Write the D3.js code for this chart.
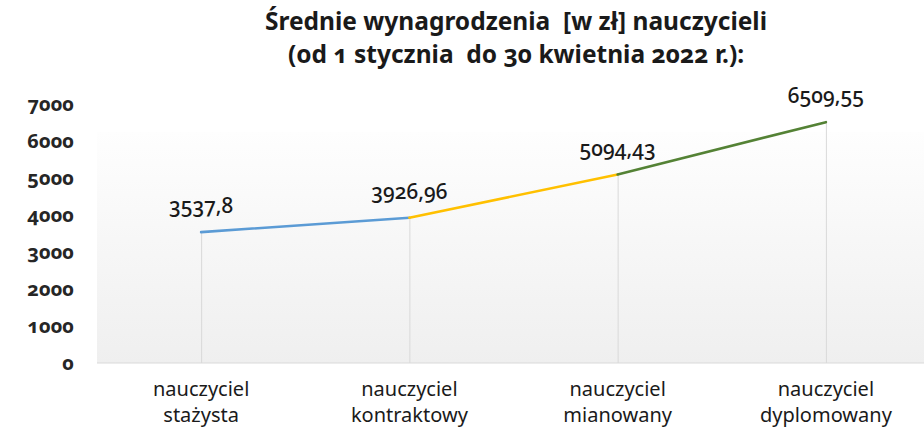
<!DOCTYPE html>
<html>
<head>
<meta charset="utf-8">
<script src="https://cdn.jsdelivr.net/npm/d3@7/dist/d3.min.js"></script>
<style>
  html, body { margin: 0; padding: 0; background: #fff; }
  svg { display: block; }
  .title { font-family: "Noto Sans", "Open Sans", sans-serif; font-weight: 700; font-size: 24.5px; fill: #1a1a1a; font-variant-numeric: oldstyle-nums; white-space: pre; }
  .ytick text { font-family: "Noto Sans", "Open Sans", sans-serif; font-weight: 700; font-size: 20px; fill: #262626; font-variant-numeric: oldstyle-nums; }
  .vlabel { font-family: "Noto Sans", "Open Sans", sans-serif; font-weight: 500; font-size: 21px; fill: #1a1a1a; font-variant-numeric: oldstyle-nums; }
  .xlabel { font-family: "Noto Sans", "Open Sans", sans-serif; font-size: 20px; fill: #1a1a1a; }
</style>
</head>
<body>
<svg id="chart" width="924" height="436"></svg>
<script>
// Average teacher salaries by career grade (PLN)
const categories = [
  ["nauczyciel", "stażysta"],
  ["nauczyciel", "kontraktowy"],
  ["nauczyciel", "mianowany"],
  ["nauczyciel", "dyplomowany"]
];
const salaries = [3537.8, 3926.96, 5094.43, 6509.55];
const valueLabels = ["3537,8", "3926,96", "5094,43", "6509,55"];
const yTicks = [0, 1000, 2000, 3000, 4000, 5000, 6000, 7000];
const segmentColors = ["#5b9bd5", "#ffc000", "#548235"];
const titleLines = [
  "Średnie wynagrodzenia  [w zł] nauczycieli",
  "(od 1 stycznia  do 30 kwietnia 2022 r.):"
];

const W = 924, H = 436;
const plot = { left: 97, right: 930, top: 104, bottom: 363, panelTop: 132 };

const svg = d3.select("#chart");

const keys = categories.map((c, i) => i);
const x = d3.scalePoint().domain(keys).range([plot.left, plot.right]).padding(0.5);
const y = d3.scaleLinear().domain([0, 7000]).range([plot.bottom, plot.top]);

// Plot panel with soft vertical gradient
const defs = svg.append("defs");
const grad = defs.append("linearGradient").attr("id", "panelGrad")
  .attr("x1", 0).attr("y1", 0).attr("x2", 0).attr("y2", 1);
grad.append("stop").attr("offset", "0%").attr("stop-color", "#fefefe");
grad.append("stop").attr("offset", "100%").attr("stop-color", "#efefef");

svg.append("rect")
  .attr("x", plot.left).attr("y", plot.panelTop)
  .attr("width", W - plot.left).attr("height", plot.bottom - plot.panelTop)
  .attr("fill", "url(#panelGrad)");

// Title
svg.append("text").attr("class", "title")
  .attr("x", 516).attr("text-anchor", "middle")
  .attr("xml:space", "preserve")
  .selectAll("tspan").data(titleLines).join("tspan")
  .attr("x", 516)
  .attr("y", (d, i) => 30 + i * 33)
  .text(d => d);

// Y axis (labels only)
const yAxis = d3.axisLeft(y).tickValues(yTicks).tickSize(0).tickPadding(0).tickFormat(d3.format("d"));
const gy = svg.append("g").attr("class", "ytick").attr("transform", "translate(74,0)").call(yAxis);
gy.select(".domain").remove();
gy.selectAll("text").attr("dy", "0.3em");

// Category baseline
svg.append("line")
  .attr("x1", plot.left).attr("x2", W)
  .attr("y1", y(0)).attr("y2", y(0))
  .attr("stroke", "#d9d9d9").attr("stroke-width", 1.2);

// Drop lines
svg.append("g").selectAll("line").data(salaries).join("line")
  .attr("x1", (d, i) => x(i) + 0.5).attr("x2", (d, i) => x(i) + 0.5)
  .attr("y1", d => y(d)).attr("y2", y(0))
  .attr("stroke", "#d9d9d9").attr("stroke-width", 1);

// Line segments, each with its own colour
const segs = d3.pairs(salaries.map((v, i) => [x(i), y(v)]));
svg.append("g").selectAll("line").data(segs).join("line")
  .attr("x1", d => d[0][0]).attr("y1", d => d[0][1])
  .attr("x2", d => d[1][0]).attr("y2", d => d[1][1])
  .attr("stroke", (d, i) => segmentColors[i])
  .attr("stroke-width", 2.6)
  .attr("stroke-linecap", "round");

// Value labels
svg.append("g").selectAll("text").data(salaries).join("text")
  .attr("class", "vlabel")
  .attr("x", (d, i) => x(i))
  .attr("y", d => y(d) - 19)
  .attr("text-anchor", "middle")
  .text((d, i) => valueLabels[i]);

// Category labels
const xl = svg.append("g").selectAll("text").data(categories).join("text")
  .attr("class", "xlabel")
  .attr("text-anchor", "middle");
xl.selectAll("tspan").data((d, i) => d.map(t => [t, i])).join("tspan")
  .attr("x", d => x(d[1]))
  .attr("y", (d, j) => 396 + j * 26)
  .text(d => d[0]);
</script>
</body>
</html>
